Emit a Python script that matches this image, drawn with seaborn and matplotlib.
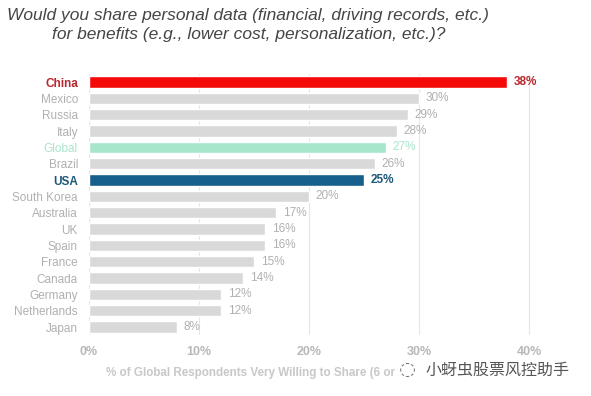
import matplotlib
matplotlib.use("Agg")
import matplotlib.pyplot as plt
import seaborn as sns
import pandas as pd

countries = ["China", "Mexico", "Russia", "Italy", "Global", "Brazil", "USA",
             "South Korea", "Australia", "UK", "Spain", "France", "Canada",
             "Germany", "Netherlands", "Japan"]
values = [38, 30, 29, 28, 27, 26, 25, 20, 17, 16, 16, 15, 14, 12, 12, 8]
xticks = [0, 10, 20, 30, 40]

df = pd.DataFrame({"country": countries, "value": values})

GRAY_BAR = "#d9d9d9"
GRAY_TXT = "#b0b0b0"
bar_colors = {c: GRAY_BAR for c in countries}
bar_colors.update({"China": "#f50a0a", "Global": "#a8e6cc", "USA": "#175f8d"})
label_colors = {c: GRAY_TXT for c in countries}
label_colors.update({"China": "#b8282e", "Global": "#a8e6cc", "USA": "#1d5878"})
bold = {"China", "USA"}

sns.set_theme(style="white")
plt.rcParams['font.family'] = ['Liberation Sans', 'Noto Sans CJK SC', 'DejaVu Sans']

fig = plt.figure(figsize=(5.91, 3.96), dpi=100)
ax = fig.add_axes([0.1506, 0.1535, 0.782, 0.660])

sns.barplot(data=df, y="country", x="value", hue="country", palette=bar_colors,
            order=countries, hue_order=countries, dodge=False, legend=False,
            width=0.7, ax=ax, saturation=1)

ax.set_xlim(0, 42)
ax.set_ylim(len(countries) - 0.5, -0.5)
ax.set_xticks(xticks)
ax.set_xticklabels([f"{t}%" for t in xticks], color="#b8b8b8", fontweight="bold", fontsize=9)
ax.tick_params(axis="x", length=0, pad=8)
ax.tick_params(axis="y", length=0, pad=8)
for spine in ax.spines.values():
    spine.set_visible(False)
ax.set_axisbelow(True)
for t in xticks:
    ax.axvline(t, color="#e6e6e6", lw=0.8, zorder=0)

ax.set_yticks(range(len(countries)))
ax.set_yticklabels(countries, fontsize=8.5)
for lbl, c in zip(ax.get_yticklabels(), countries):
    lbl.set_color(label_colors[c])
    if c in bold:
        lbl.set_fontweight("bold")

for i, (c, v) in enumerate(zip(countries, values)):
    ax.text(v + 0.6, i, f"{v}%", va="center", ha="left", fontsize=8.5,
            color=label_colors[c], fontweight="bold" if c in bold else "normal")

ax.set_ylabel("")
ax.set_xlabel("")
# visible part of the axis title (the rest is hidden under the watermark)
fig.text(106 / 591, 1 - 373 / 396, "% of Global Respondents Very Willing to Share (6 or",
         ha="left", va="center", color="#c8c8c8", fontweight="bold", fontsize=8.4)

fig.text(0.42, 0.98, "Would you share personal data (financial, driving records, etc.)\n"
         "for benefits (e.g., lower cost, personalization, etc.)?",
         ha="center", va="top", fontsize=12.5, style="italic", color="#454545",
         linespacing=1.3)

fig.text(0.675, 0.066, "◌", ha="left", va="center", fontsize=14,
         color="#777777", family=['DejaVu Sans'])
fig.text(0.72, 0.066, "小蚜虫股票风控助手", ha="left", va="center", fontsize=11.5,
         color="#555555", family=['Noto Sans CJK SC', 'DejaVu Sans'])

fig.savefig("out.png", dpi=100)
